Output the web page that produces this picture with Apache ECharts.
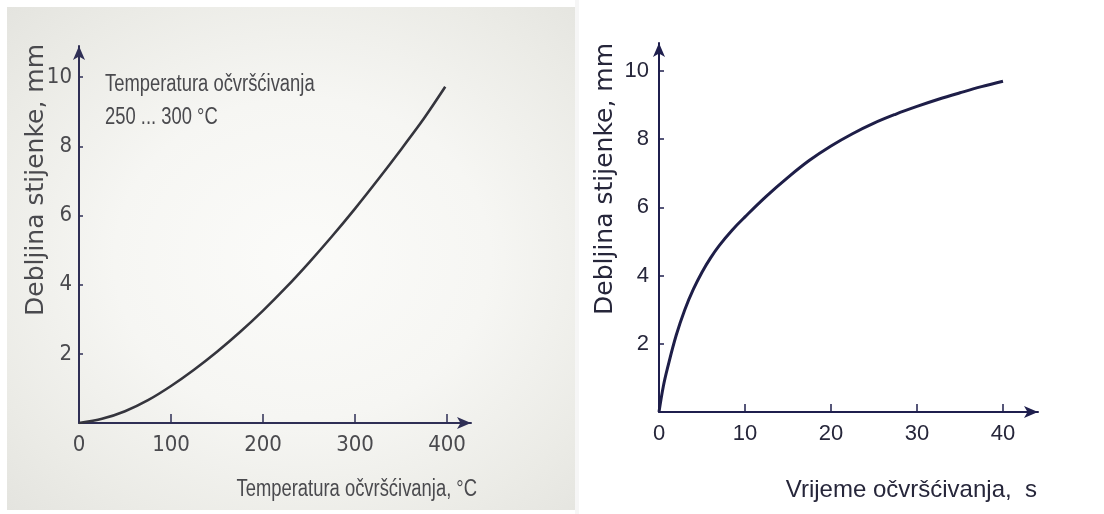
<!DOCTYPE html>
<html>
<head>
<meta charset="utf-8">
<script src="https://cdn.jsdelivr.net/npm/echarts@6.0.0/dist/echarts.min.js"></script>
<style>
  html, body { margin: 0; padding: 0; background: #ffffff; }
  #wrap { position: relative; width: 1104px; height: 514px; overflow: hidden; }
  #bgLeft { position: absolute; left: 7px; top: 7px; width: 568px; height: 503px;
    background: radial-gradient(ellipse at 52% 50%, #fbfbf9 0%, #f6f6f3 45%, #ebebe6 80%, #e4e4df 100%); }
  #bgStrip { position: absolute; left: 575px; top: 0; width: 4px; height: 514px; background: #f6f6f6; }
  #chart { position: absolute; left: 0; top: 0; width: 1104px; height: 514px; }
</style>
</head>
<body>
<div id="wrap">
  <div id="bgLeft"></div>
  <div id="bgStrip"></div>
  <div id="chart"></div>
</div>
<script>
// ---- data ----
var tempValues    = [0, 25, 50, 75, 100, 125, 150, 175, 200, 225, 250, 275, 300, 325, 350, 375, 398]; // °C
var tempThickness = [0, 0.12, 0.34, 0.66, 1.07, 1.54, 2.06, 2.63, 3.25, 3.92, 4.64, 5.40, 6.20, 7.04, 7.91, 8.81, 9.72]; // mm

var timeValues    = [0, 0.5, 1, 2, 3, 4, 5, 6, 7, 8.5, 10, 12.5, 15, 17.5, 20, 22.5, 25, 27.5, 30, 32.5, 35, 37.5, 40]; // s
var timeThickness = [0, 0.75, 1.3, 2.25, 3.0, 3.6, 4.1, 4.52, 4.88, 5.33, 5.72, 6.33, 6.88, 7.38, 7.8, 8.16, 8.47, 8.73, 8.96, 9.17, 9.36, 9.54, 9.7]; // mm

var tempTicks = [0, 100, 200, 300, 400];
var timeTicks = [0, 10, 20, 30, 40];
var thickTicks = [2, 4, 6, 8, 10];

var leftAnnotation1 = 'Temperatura očvršćivanja';
var leftAnnotation2 = '250 ... 300 °C';
var leftXTitle = 'Temperatura očvršćivanja, °C';
var rightXTitle = 'Vrijeme očvršćivanja,  s';
var yTitle = 'Debljina stijenke, mm';

function pairs(xs, ys) { return xs.map(function (x, i) { return [x, ys[i]]; }); }

var narrow = "'DejaVu Sans Condensed', 'Liberation Sans', sans-serif";
var normal = "'Liberation Sans', Arial, sans-serif";
var wide = "'DejaVu Sans', 'Liberation Sans', sans-serif";

var leftAxisColor = '#2f2f55';
var leftText = '#4a4a4e';
var rightAxisColor = '#1f1f4e';
var rightText = '#26263a';

var chart = echarts.init(document.getElementById('chart'), null, { renderer: 'canvas' });

function xAxisCfg(grid, max, ticks, tickMarks, color, textColor, font, size, len) {
  return {
    type: 'value', gridIndex: grid, min: 0, max: max,
    splitLine: { show: false },
    axisLine: { show: true, symbol: ['none', 'arrow'], symbolSize: [9, 14],
      lineStyle: { color: color, width: 2 } },
    axisTick: { show: true, inside: true, length: len, customValues: tickMarks,
      lineStyle: { color: color, width: 1.5 } },
    axisLabel: { show: true, customValues: ticks, margin: 11, color: textColor,
      fontFamily: font, fontSize: size }
  };
}
function yAxisCfg(grid, max, color, textColor, font, size, margin, len) {
  return {
    type: 'value', gridIndex: grid, min: 0, max: max,
    splitLine: { show: false },
    axisLine: { show: true, symbol: ['none', 'arrow'], symbolSize: [9, 14],
      lineStyle: { color: color, width: 2 } },
    axisTick: { show: true, inside: true, length: len, customValues: thickTicks,
      lineStyle: { color: color, width: 1.5 } },
    axisLabel: { show: true, customValues: thickTicks, margin: margin, color: textColor,
      fontFamily: font, fontSize: size }
  };
}

var option = {
  animation: false,
  backgroundColor: 'transparent',
  grid: [
    { left: 79, top: 46, width: 392, height: 377, containLabel: false, outerBoundsMode: 'none' },
    { left: 659, top: 43, width: 379, height: 369, containLabel: false, outerBoundsMode: 'none' }
  ],
  xAxis: [
    xAxisCfg(0, 426, tempTicks, tempTicks.slice(1), leftAxisColor, leftText, narrow, 22, 9),
    xAxisCfg(1, 44.07, timeTicks, timeTicks.slice(1), rightAxisColor, rightText, normal, 22, 8)
  ],
  yAxis: [
    yAxisCfg(0, 10.9, leftAxisColor, leftText, narrow, 22, 7, 4),
    yAxisCfg(1, 10.82, rightAxisColor, rightText, normal, 22, 10, 5)
  ],
  series: [
    { type: 'line', xAxisIndex: 0, yAxisIndex: 0, data: pairs(tempValues, tempThickness),
      smooth: 0.3, showSymbol: false, lineStyle: { color: '#35353d', width: 2.6 } },
    { type: 'line', xAxisIndex: 1, yAxisIndex: 1, data: pairs(timeValues, timeThickness),
      smooth: 0.4, showSymbol: false, lineStyle: { color: '#1e1e48', width: 3 } }
  ],
  graphic: { elements: [
    { type: 'text', x: 105, y: 85, scaleX: 0.8, style: { text: leftAnnotation1, fill: leftText,
      font: '23px ' + normal, textVerticalAlign: 'middle' } },
    { type: 'text', x: 105, y: 118, scaleX: 0.8, style: { text: leftAnnotation2, fill: leftText,
      font: '23px ' + normal, textVerticalAlign: 'middle' } },
    { type: 'text', x: 477, y: 490, scaleX: 0.8, style: { text: leftXTitle, fill: leftText,
      font: '23px ' + normal, textAlign: 'right', textVerticalAlign: 'middle' } },
    { type: 'text', x: 1037, y: 490, style: { text: rightXTitle, fill: rightText,
      font: '24px ' + normal, textAlign: 'right', textVerticalAlign: 'middle' } },
    { type: 'text', x: 36, y: 180, rotation: Math.PI / 2, style: { text: yTitle, fill: leftText,
      font: '25px ' + wide, textAlign: 'center', textVerticalAlign: 'middle' } },
    { type: 'text', x: 605, y: 179, rotation: Math.PI / 2, style: { text: yTitle, fill: rightText,
      font: '25px ' + wide, textAlign: 'center', textVerticalAlign: 'middle' } }
  ] }
};
chart.setOption(option);
</script>
</body>
</html>
